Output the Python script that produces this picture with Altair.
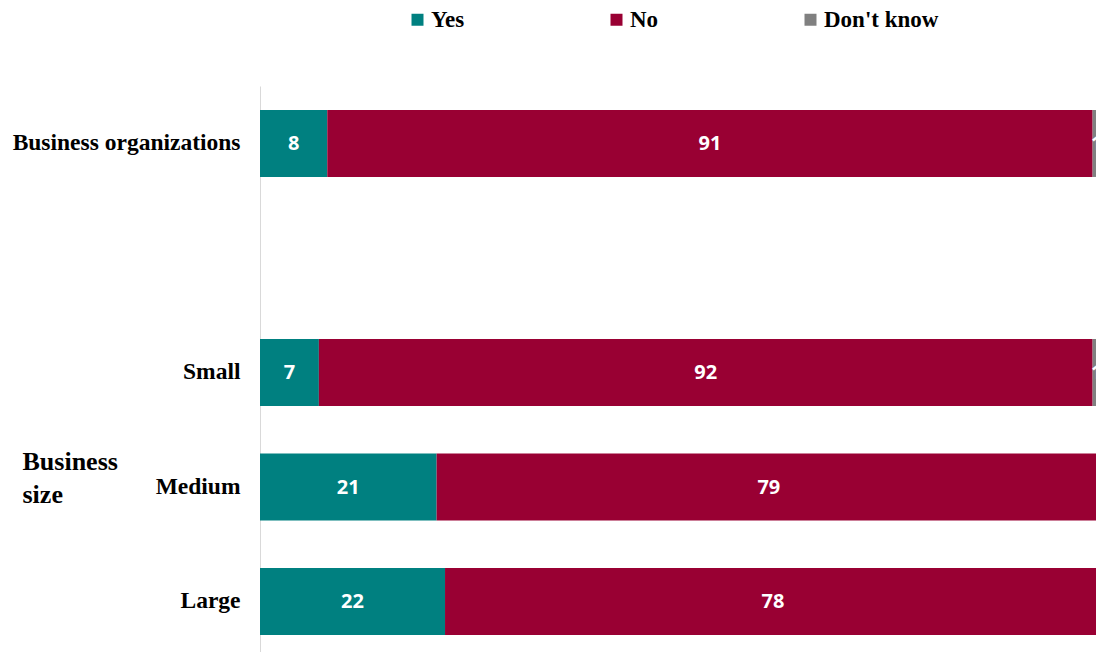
import altair as alt
import pandas as pd

categories = ["Business organizations", "Small", "Medium", "Large"]
yes_values = [8, 7, 21, 22]
no_values = [91, 92, 79, 78]
dont_know_values = [1, 1, 0, 0]
responses = ["Yes", "No", "Don't know"]
colors = ["#008080", "#990033", "#808080"]
y_domain = ["Business organizations", " ", "Small", "Medium", "Large"]

rows = []
for i, c in enumerate(categories):
    for j, (r, vals) in enumerate(zip(responses, [yes_values, no_values, dont_know_values])):
        rows.append({"category": c, "response": r, "value": vals[i], "order": j})
df = pd.DataFrame(rows)

base = alt.Chart(df).transform_filter("datum.value > 0").transform_stack(
    stack="value", groupby=["category"], as_=["x0", "x1"], sort=[alt.SortField("order")]
).transform_calculate(mid="(datum.x0 + datum.x1) / 2")

y = alt.Y(
    "category:N",
    scale=alt.Scale(domain=y_domain, paddingInner=0.415, paddingOuter=0.179, align=0.585),
    axis=alt.Axis(
        title=["Business", "size"],
        titleAngle=0, titleX=-238, titleY=362, titleAlign="left", titleBaseline="top",
        titleFont="Liberation Serif", titleFontSize=26, titleFontWeight="bold",
        titleLineHeight=33, titleColor="black",
        labelFont="Liberation Serif", labelFontSize=23.5, labelFontWeight="bold",
        labelColor="black", labelPadding=20, labelLimit=400, ticks=False,
        domainColor="#d9d9d9", domainWidth=1, grid=False,
    ),
)

xscale = alt.Scale(domain=[0, 99.4], nice=False, zero=True)

bars = base.mark_bar(clip=True).encode(
    x=alt.X("x0:Q", scale=xscale, axis=None),
    x2="x1:Q",
    y=y,
    color=alt.Color(
        "response:N",
        scale=alt.Scale(domain=responses, range=colors),
        legend=alt.Legend(
            orient="none", legendX=146, legendY=-78, direction="horizontal",
            title=None, symbolType="square", symbolSize=144, symbolStrokeWidth=0,
            symbolOpacity=1, labelFont="Liberation Serif", labelFontSize=23,
            labelFontWeight="bold", labelColor="black", columnPadding=140,
            labelOffset=2,
        ),
    ),
)

labels = base.mark_text(
    clip=True, color="white", font="Open Sans", fontWeight="bold", fontSize=20, dy=1
).encode(
    x=alt.X("mid:Q", scale=xscale, axis=None),
    y=y,
    text="value:Q",
)

chart = alt.layer(bars, labels).properties(
    width=836, height=566,
    padding={"left": 260, "top": 86, "right": 0, "bottom": 0},
    autosize="none",
    background="white",
).configure_view(stroke="transparent", strokeWidth=0)

chart.save("out.html", embed_options={"renderer": "svg", "actions": False})
